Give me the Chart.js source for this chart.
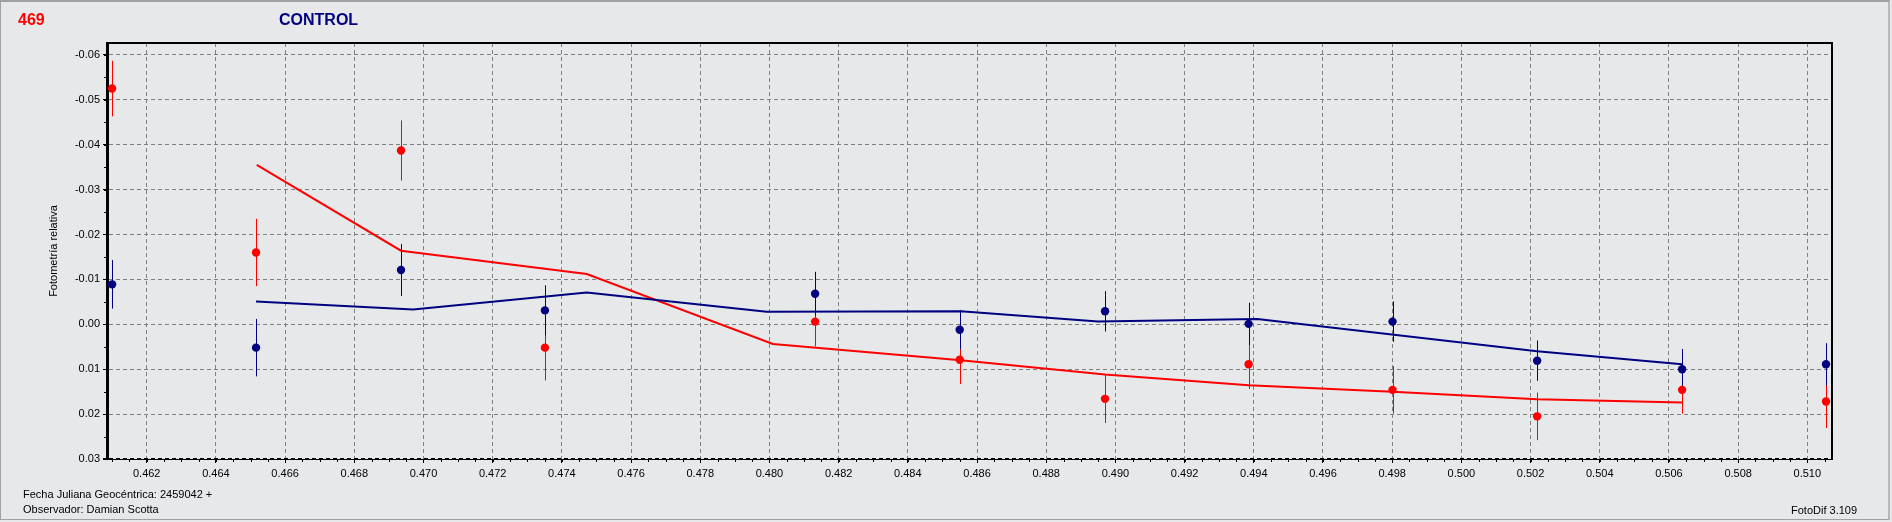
<!DOCTYPE html>
<html>
<head>
<meta charset="utf-8">
<title>469 CONTROL</title>
<script src="https://cdn.jsdelivr.net/npm/chart.js@4.4.1/dist/chart.umd.min.js"></script>
<style>
html, body { margin: 0; padding: 0; background: #e7e8ea; }
#wrap { position: relative; width: 1892px; height: 522px; overflow: hidden; font-family: "Liberation Sans", Arial, sans-serif; }
#frame { position: absolute; left: 0; top: 0; width: 1887px; height: 517px; border: 1px solid #a0a0a0; border-top: 2px solid #a0a0a0; border-right: 2px solid #b8b8b8; }
canvas { position: absolute; left: 0; top: 0; }
.txt { position: absolute; white-space: nowrap; font-size: 11px; line-height: 12px; color: #000; }
.big { font-size: 16px; line-height: 16px; font-weight: bold; }
</style>
</head>
<body>
<div id="wrap">
  <div id="frame"></div>
  <canvas id="fotoChart" width="1892" height="522"></canvas>
  <div class="txt big" style="left:18px; top:12px; color:#ff0000;">469</div>
  <div class="txt big" style="left:279px; top:12px; color:#000080;">CONTROL</div>
  <div class="txt" style="left:23px; top:488px;">Fecha Juliana Geocéntrica: 2459042 +</div>
  <div class="txt" style="left:23px; top:503px;">Observador: Damian Scotta</div>
  <div class="txt" style="left:1791px; top:504px;">FotoDif 3.109</div>
</div>
<script>
(function () {

// ------------------------------------------------------------------ data

var xVals    = [0.46100, 0.46516, 0.46935, 0.47351, 0.48132, 0.48550, 0.48970, 0.49385, 0.49801, 0.50219, 0.50638, 0.51054];

var blueVals = [-0.0089, 0.0052, -0.0121, -0.0031, -0.0068, 0.0012, -0.0029, -0.0001, -0.0006, 0.0081, 0.0100, 0.0089];
var blueErr  = [0.0054, 0.0064, 0.0058, 0.0056, 0.0049, 0.0044, 0.0045, 0.0047, 0.0045, 0.0045, 0.0045, 0.0047];

var redVals  = [-0.0525, -0.0160, -0.0387, 0.0052, -0.0006, 0.0079, 0.0166, 0.0089, 0.0146, 0.0205, 0.0146, 0.0172];
var redErr   = [0.0062, 0.0075, 0.0067, 0.0073, 0.0055, 0.0054, 0.0054, 0.0055, 0.0053, 0.0053, 0.0053, 0.0059];

// trend lines
var blueTrendX = [0.46516, 0.46970, 0.47472, 0.47992, 0.48553, 0.48950, 0.49410, 0.50219, 0.50638];
var blueTrendY = [-0.0051, -0.0033, -0.0071, -0.0028, -0.0029, -0.0006, -0.0012, 0.0060, 0.0089];

var redTrendX  = [0.46518, 0.46935, 0.47472, 0.48010, 0.48553, 0.48970, 0.49385, 0.49801, 0.50219, 0.50638];
var redTrendY  = [-0.0355, -0.0164, -0.0112, 0.0044, 0.0080, 0.0112, 0.0136, 0.0150, 0.0167, 0.0174];

var xTicks = [0.462, 0.464, 0.466, 0.468, 0.470, 0.472, 0.474, 0.476, 0.478, 0.480, 0.482, 0.484, 0.486,
              0.488, 0.490, 0.492, 0.494, 0.496, 0.498, 0.500, 0.502, 0.504, 0.506, 0.508, 0.510];
var yTicks = [-0.06, -0.05, -0.04, -0.03, -0.02, -0.01, 0.00, 0.01, 0.02, 0.03];

var NAVY = "#000080";
var RED  = "#ff0000";

function pairs(xs, ys) {
    return xs.map(function (x, i) { return { x: x, y: ys[i] }; });
}

// ------------------------------------------------------------------ plugins

var errorBars = {
    id: 'errorBars',
    beforeDatasetsDraw: function (chart) {
        var ctx = chart.ctx, xs = chart.scales.x, ys = chart.scales.y;
        ctx.save();
        ctx.lineWidth = 1;
        [[redVals, redErr, RED], [blueVals, blueErr, NAVY]].forEach(function (s) {
            ctx.strokeStyle = s[2];
            ctx.beginPath();
            for (var i = 0; i < xVals.length; i++) {
                var px = Math.round(xs.getPixelForValue(xVals[i])) + 0.5;
                ctx.moveTo(px, ys.getPixelForValue(s[0][i] - s[1][i]));
                ctx.lineTo(px, ys.getPixelForValue(s[0][i] + s[1][i]));
            }
            ctx.stroke();
        });
        ctx.restore();
    }
};

var frameBox = {
    id: 'frameBox',
    afterDraw: function (chart) {
        var ctx = chart.ctx, a = chart.chartArea, xs = chart.scales.x, ys = chart.scales.y;
        ctx.save();
        // top + right border
        ctx.strokeStyle = "#000";
        ctx.lineWidth = 2;
        ctx.beginPath();
        ctx.moveTo(a.left, a.top);
        ctx.lineTo(a.right, a.top);
        ctx.lineTo(a.right, a.bottom);
        ctx.stroke();
        // minor ticks
        ctx.lineWidth = 1;
        ctx.beginPath();
        for (var k = 0; k <= 99; k++) {
            var v = 0.461 + k * 0.0005;
            var px = Math.round(xs.getPixelForValue(v)) + 0.5;
            if (px <= a.left || px >= a.right) continue;
            ctx.moveTo(px, a.bottom);
            ctx.lineTo(px, a.bottom + 3);
        }
        for (var j = 0; j <= 18; j++) {
            var w = -0.06 + j * 0.005;
            var py = Math.round(ys.getPixelForValue(w)) + 0.5;
            ctx.moveTo(a.left - 3, py);
            ctx.lineTo(a.left, py);
        }
        ctx.stroke();
        ctx.restore();
    }
};

// ------------------------------------------------------------------ chart

try {
    var canvas = document.getElementById("fotoChart");
    var ctx = canvas.getContext("2d");
    var tickFont = { family: "'Liberation Sans', Arial, sans-serif", size: 11 };

    new Chart(ctx, {
        type: 'scatter',
        data: {
            datasets: [
                { data: pairs(xVals, blueVals), backgroundColor: NAVY, borderColor: NAVY,
                  pointRadius: 4.2, pointBorderWidth: 0, showLine: false },
                { data: pairs(xVals, redVals), backgroundColor: RED, borderColor: RED,
                  pointRadius: 4.2, pointBorderWidth: 0, showLine: false },
                { data: pairs(blueTrendX, blueTrendY), borderColor: NAVY, borderWidth: 2,
                  pointRadius: 0, showLine: true, fill: false, tension: 0 },
                { data: pairs(redTrendX, redTrendY), borderColor: RED, borderWidth: 2,
                  pointRadius: 0, showLine: true, fill: false, tension: 0 }
            ]
        },
        options: {
            responsive: false,
            animation: false,
            devicePixelRatio: 1,
            events: [],
            layout: { padding: { left: 0, top: 43, right: 60, bottom: 0 } },
            plugins: {
                legend: { display: false },
                tooltip: { enabled: false }
            },
            scales: {
                x: {
                    type: 'linear',
                    min: 0.460852,
                    max: 0.510713,
                    afterBuildTicks: function (s) { s.ticks = xTicks.map(function (v) { return { value: v }; }); },
                    afterFit: function (s) { s.height = 63; },
                    ticks: {
                        autoSkip: false, maxRotation: 0, color: "#000", font: tickFont, padding: 4,
                        callback: function (v) { return Number(v).toFixed(3); }
                    },
                    grid: {
                        color: "#808080", lineWidth: 1, drawTicks: true, tickLength: 4,
                        tickColor: "#000", tickBorderDash: []
                    },
                    border: { display: true, color: "#000", width: 1, dash: [4, 3] }
                },
                y: {
                    type: 'linear',
                    reverse: true,
                    min: -0.06265,
                    max: 0.03,
                    afterBuildTicks: function (s) { s.ticks = yTicks.map(function (v) { return { value: v }; }); },
                    afterFit: function (s) { s.width = 107; },
                    ticks: {
                        color: "#000", font: tickFont, padding: 3,
                        callback: function (v) { return Number(v).toFixed(2); }
                    },
                    grid: {
                        color: function (c) { return (c.tick && c.tick.value === 0.03) ? "#000" : "#808080"; },
                        lineWidth: function (c) { return (c.tick && c.tick.value === 0.03) ? 2 : 1; },
                        drawTicks: true, tickLength: 4, tickColor: "#000", tickBorderDash: []
                    },
                    border: { display: true, color: "#000", width: 3, dash: [4, 3] },
                    title: {
                        display: true,
                        text: "Fotometría relativa",
                        color: "#000",
                        font: tickFont,
                        padding: { top: 47, bottom: 0 }
                    }
                }
            }
        },
        plugins: [errorBars, frameBox]
    });
} catch (e) {
    console.log("Error in fotoChart: " + e);
}

})();
</script>
</body>
</html>
